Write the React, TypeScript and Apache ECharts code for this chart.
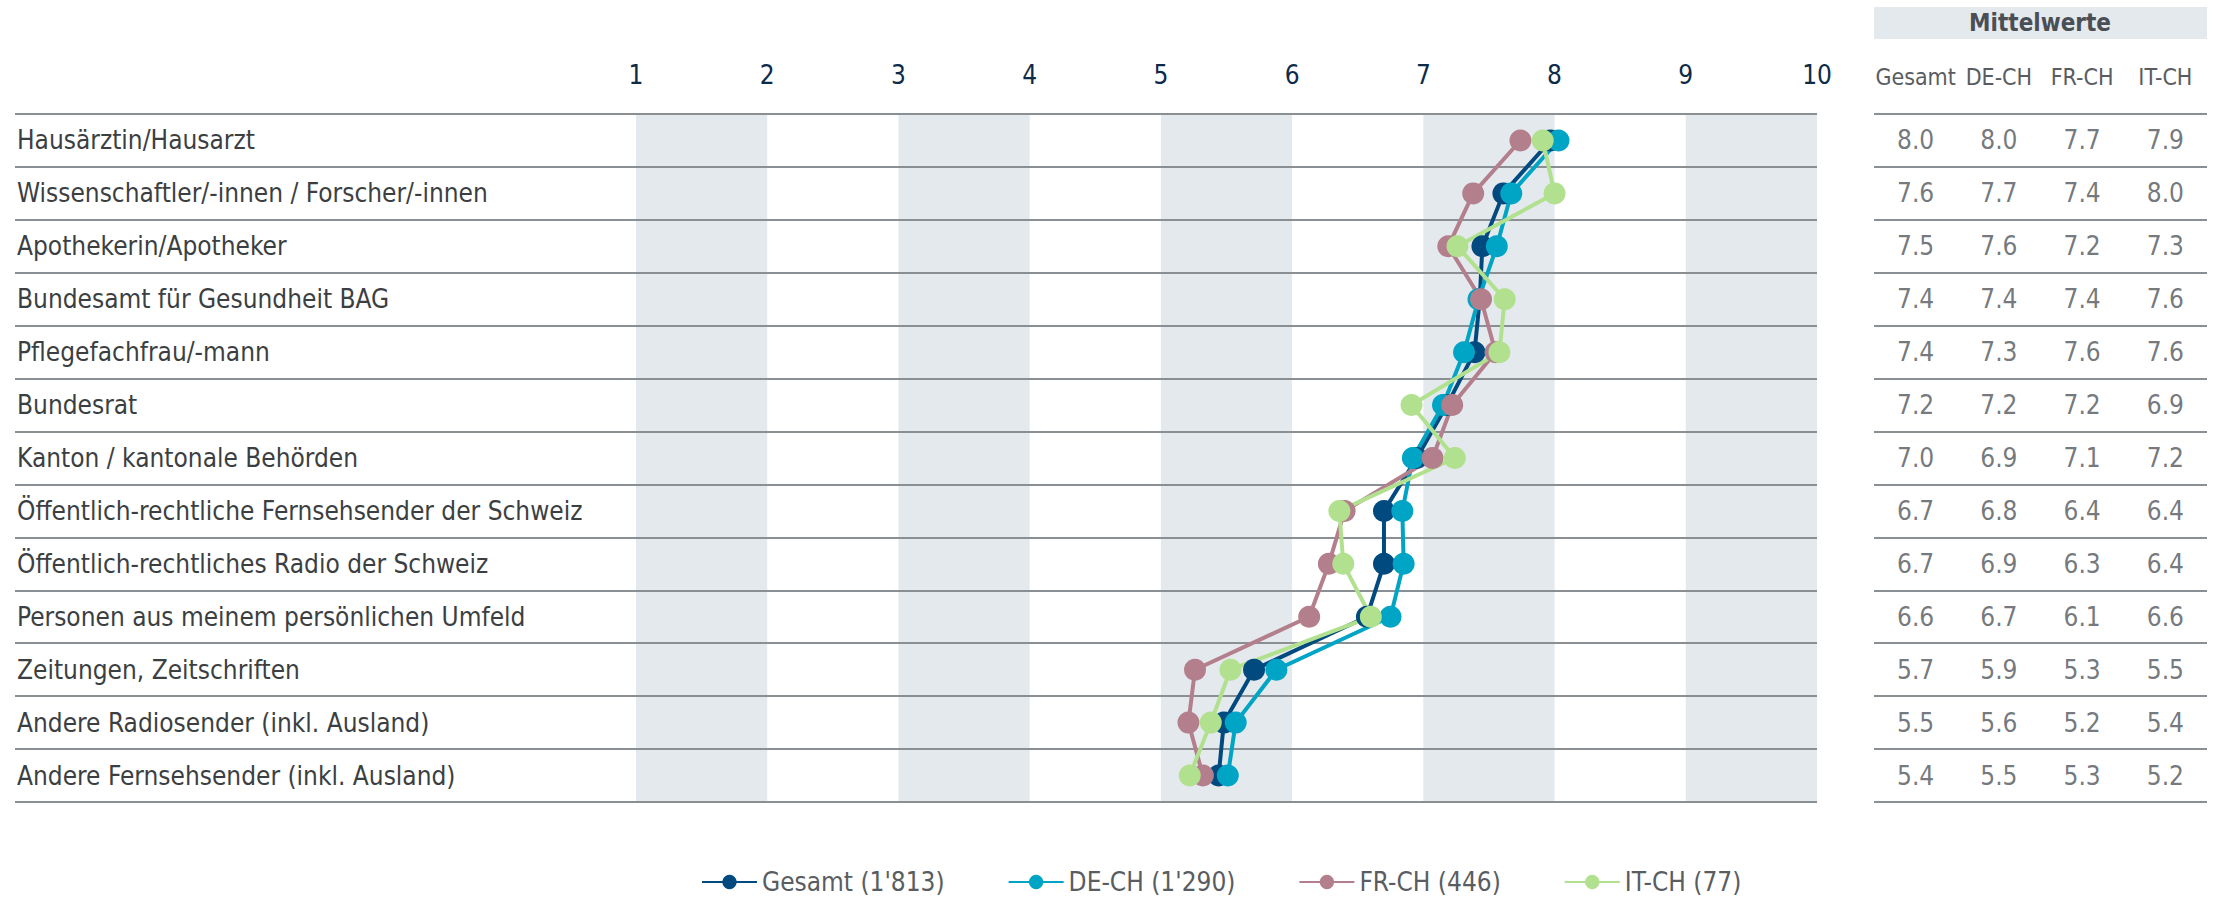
import React, { useEffect, useRef } from "react";
import * as echarts from "echarts";

const categories = [
  "Hausärztin/Hausarzt",
  "Wissenschaftler/-innen / Forscher/-innen",
  "Apothekerin/Apotheker",
  "Bundesamt für Gesundheit BAG",
  "Pflegefachfrau/-mann",
  "Bundesrat",
  "Kanton / kantonale Behörden",
  "Öffentlich-rechtliche Fernsehsender der Schweiz",
  "Öffentlich-rechtliches Radio der Schweiz",
  "Personen aus meinem persönlichen Umfeld",
  "Zeitungen, Zeitschriften",
  "Andere Radiosender (inkl. Ausland)",
  "Andere Fernsehsender (inkl. Ausland)",
];

const seriesNames = ["Gesamt (1'813)", "DE-CH (1'290)", "FR-CH (446)", "IT-CH (77)"];
const columnLabels = ["Gesamt", "DE-CH", "FR-CH", "IT-CH"];
const xTicks = [1, 10];

// plotted (unrounded) means
const gesamt = [7.97, 7.61, 7.45, 7.43, 7.39, 7.18, 6.95, 6.7, 6.7, 6.57, 5.71, 5.48, 5.44];
const deCh = [8.03, 7.67, 7.56, 7.42, 7.31, 7.15, 6.92, 6.84, 6.85, 6.75, 5.88, 5.57, 5.51];
const frCh = [7.74, 7.38, 7.19, 7.44, 7.55, 7.22, 7.07, 6.4, 6.28, 6.13, 5.26, 5.21, 5.32];
const itCh = [7.91, 8.0, 7.26, 7.62, 7.58, 6.91, 7.24, 6.36, 6.39, 6.6, 5.53, 5.38, 5.22];

// table (rounded) means
const tabGesamt = [8.0, 7.6, 7.5, 7.4, 7.4, 7.2, 7.0, 6.7, 6.7, 6.6, 5.7, 5.5, 5.4];
const tabDeCh = [8.0, 7.7, 7.6, 7.4, 7.3, 7.2, 6.9, 6.8, 6.9, 6.7, 5.9, 5.6, 5.5];
const tabFrCh = [7.7, 7.4, 7.2, 7.4, 7.6, 7.2, 7.1, 6.4, 6.3, 6.1, 5.3, 5.2, 5.3];
const tabItCh = [7.9, 8.0, 7.3, 7.6, 7.6, 6.9, 7.2, 6.4, 6.4, 6.6, 5.5, 5.4, 5.2];

const colors = ["#004a80", "#00a4c4", "#b47f8c", "#b1e18e"];
const FONT = "'DejaVu Sans Condensed', 'DejaVu Sans', sans-serif";

export default function App() {
  const ref = useRef<HTMLDivElement>(null);
  useEffect(() => {
    if (!ref.current) return;
    const chart = echarts.init(ref.current, undefined, { renderer: "svg" });
    const plotSeries = [gesamt, deCh, frCh, itCh];
    const tabCols = [tabGesamt, tabDeCh, tabFrCh, tabItCh];
    const tableData: any[] = [];
    tabCols.forEach((col, ci) =>
      col.forEach((v, ri) => tableData.push([columnLabels[ci], categories[ri], v]))
    );
    const top = 114;
    const height = 688;
    const option: any = {
      animation: false,
      textStyle: { fontFamily: FONT },
      grid: [
        { left: 636, width: 1181, top, height },
        { left: 1874, width: 333, top, height },
        { left: 15, width: 1802, top, height },
      ],
      xAxis: [
        {
          gridIndex: 0,
          type: "value",
          position: "top",
          min: xTicks[0],
          max: xTicks[1],
          interval: 1,
          axisLine: { show: false },
          axisTick: { show: false },
          splitLine: { show: false },
          splitArea: { show: true, areaStyle: { color: ["#e4e9ed", "rgba(255,255,255,0)"] } },
          axisLabel: {
            color: "#0d2b48",
            fontSize: 26,
            fontFamily: FONT,
            margin: 26,
            verticalAlign: "bottom",
          },
        },
        {
          gridIndex: 1,
          type: "category",
          position: "top",
          data: columnLabels,
          axisLine: { show: false },
          axisTick: { show: false },
          axisLabel: {
            interval: 0,
            color: "#595d62",
            fontSize: 23,
            fontFamily: FONT,
            margin: 26,
            verticalAlign: "bottom",
          },
        },
        { gridIndex: 2, type: "value", show: false, min: 0, max: 1 },
      ],
      yAxis: [
        {
          gridIndex: 0,
          type: "category",
          inverse: true,
          data: categories,
          axisLine: { show: false },
          axisTick: { show: false },
          splitLine: { show: false },
          axisLabel: {
            interval: 0,
            align: "left",
            margin: 619,
            color: "#3c3f42",
            fontSize: 26,
            fontFamily: FONT,
          },
        },
        {
          gridIndex: 1,
          type: "category",
          inverse: true,
          data: categories,
          axisLine: { show: false },
          axisTick: { show: false },
          axisLabel: { show: false },
          splitLine: { show: true, interval: 0, lineStyle: { color: "#8a8f94", width: 2 } },
        },
        {
          gridIndex: 2,
          type: "category",
          inverse: true,
          data: categories,
          z: 2,
          axisLine: { show: false },
          axisTick: { show: false },
          axisLabel: { show: false },
          splitLine: { show: true, interval: 0, lineStyle: { color: "#8a8f94", width: 2 } },
        },
      ],
      legend: {
        left: 696,
        top: 864,
        itemWidth: 55,
        itemHeight: 18,
        itemGap: 63,
        data: seriesNames,
        textStyle: { color: "#595d62", fontSize: 26, fontFamily: FONT },
      },
      series: [
        ...plotSeries.map((arr, i) => ({
          name: seriesNames[i],
          type: "line",
          xAxisIndex: 0,
          yAxisIndex: 0,
          z: 3,
          symbol: "circle",
          symbolSize: 22,
          color: colors[i],
          lineStyle: { width: 4, color: colors[i] },
          itemStyle: { color: colors[i] },
          data: arr.map((v, ri) => [v, categories[ri]]),
        })),
        {
          type: "scatter",
          xAxisIndex: 1,
          yAxisIndex: 1,
          symbolSize: 1,
          itemStyle: { color: "rgba(0,0,0,0)" },
          label: {
            show: true,
            position: "inside",
            color: "#50555a",
            fontSize: 26,
            fontFamily: FONT,
            formatter: (p: any) => p.value[2].toFixed(1),
          },
          data: tableData,
        },
      ],
      graphic: [
        {
          type: "rect",
          shape: { x: 1874, y: 7, width: 333, height: 32 },
          style: { fill: "#e4e9ed" },
        },
        {
          type: "text",
          x: 2040,
          y: 23,
          style: {
            text: "Mittelwerte",
            fontSize: 24,
            fontWeight: "bold",
            fontFamily: FONT,
            fill: "#4a4f55",
            align: "center",
            verticalAlign: "middle",
          },
        },
      ],
    };
    chart.setOption(option);
    return () => chart.dispose();
  }, []);
  return (
    <div
      ref={ref}
      style={{ position: "fixed", left: 0, top: 0, width: 2220, height: 898, background: "#fff" }}
    />
  );
}
